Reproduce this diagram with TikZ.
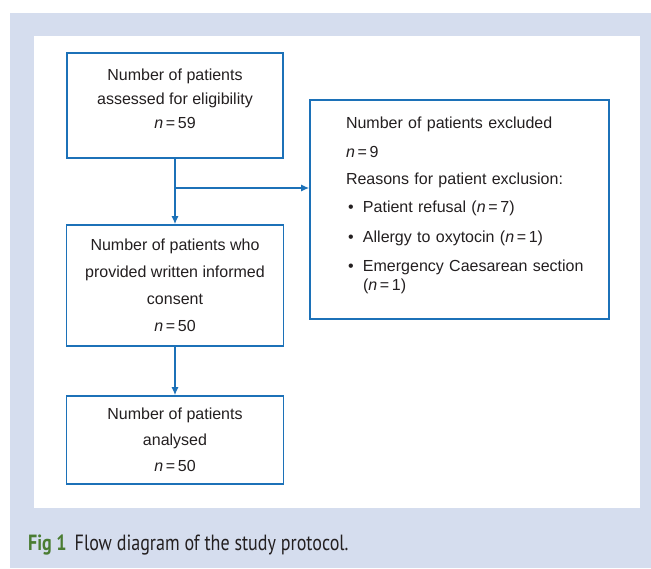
\documentclass[tikz,border=0pt]{standalone}
\usepackage{fontspec}
\usetikzlibrary{arrows.meta}
\setmainfont{Liberation Sans}
\newfontfamily\legende[FakeStretch=0.82]{PT Sans}
\definecolor{bleu}{RGB}{28,113,184}
\definecolor{fond}{RGB}{213,221,238}
\definecolor{vert}{RGB}{74,124,50}
\definecolor{encre}{RGB}{35,31,32}
\begin{document}
\begin{tikzpicture}[x=1pt,y=-1pt]
%fond et cadre
\tikzstyle{boite}=[draw=bleu,line width=1.6pt,align=center,text=encre,
                   font=\fontsize{16}{19}\selectfont]
\tikzstyle{fleche}=[->,>={Latex[length=8pt,width=7pt]},draw=bleu,line width=1.3pt]
\useasboundingbox (0,0) rectangle (651,568);
\fill[fond] (10,13) rectangle (651,568);
\fill[white] (34,36) rectangle (640,508);

%les boites
\node[boite,minimum width=216,minimum height=105] (assess) at (175,105.5)
      {Number of patients\\[5pt] assessed for eligibility\\[5pt] \textit{n}\,=\,59\\[-5pt]\mbox{}};
\node[boite,minimum width=217,minimum height=121] (consent) at (175,285.5)
      {Number of patients who\\[8pt] provided written informed\\[8pt] consent\\[8pt] \textit{n}\,=\,50};
\node[boite,minimum width=217,minimum height=88] (analysed) at (175,440)
      {Number of patients\\[7pt] analysed\\[7pt] \textit{n}\,=\,50};
\node[boite,align=left,text width=227,minimum width=299,minimum height=219] (excl) at (459.5,209.5)
      {Number of patients excluded\\[10pt]
       \textit{n}\,=\,9\\[8pt]
       Reasons for patient exclusion:\\[9pt]
       \makebox[17pt][l]{\hspace{2pt}\textbullet}Patient refusal (\textit{n}\,=\,7)\\[11pt]
       \makebox[17pt][l]{\hspace{2pt}\textbullet}Allergy to oxytocin (\textit{n}\,=\,1)\\[10pt]
       \makebox[17pt][l]{\hspace{2pt}\textbullet}\mbox{Emergency Caesarean section}\\
       \hspace*{17pt}(\textit{n}\,=\,1)\\[-8pt]\mbox{}};

%les fleches
\coordinate (split) at (assess.south |- 0,188);
\draw[fleche] (assess) -- (consent);
\draw[fleche] (split) -- (excl.west |- split);
\draw[fleche] (consent) -- (analysed);

%legende
\node[anchor=base west,inner sep=0pt,text=encre,font=\legende\fontsize{22}{26}\selectfont] (titre) at (28,550)
      {\textcolor{vert}{\textbf{Fig 1}}\hspace{8pt}Flow diagram of the study protocol.};
\end{tikzpicture}
\end{document}
